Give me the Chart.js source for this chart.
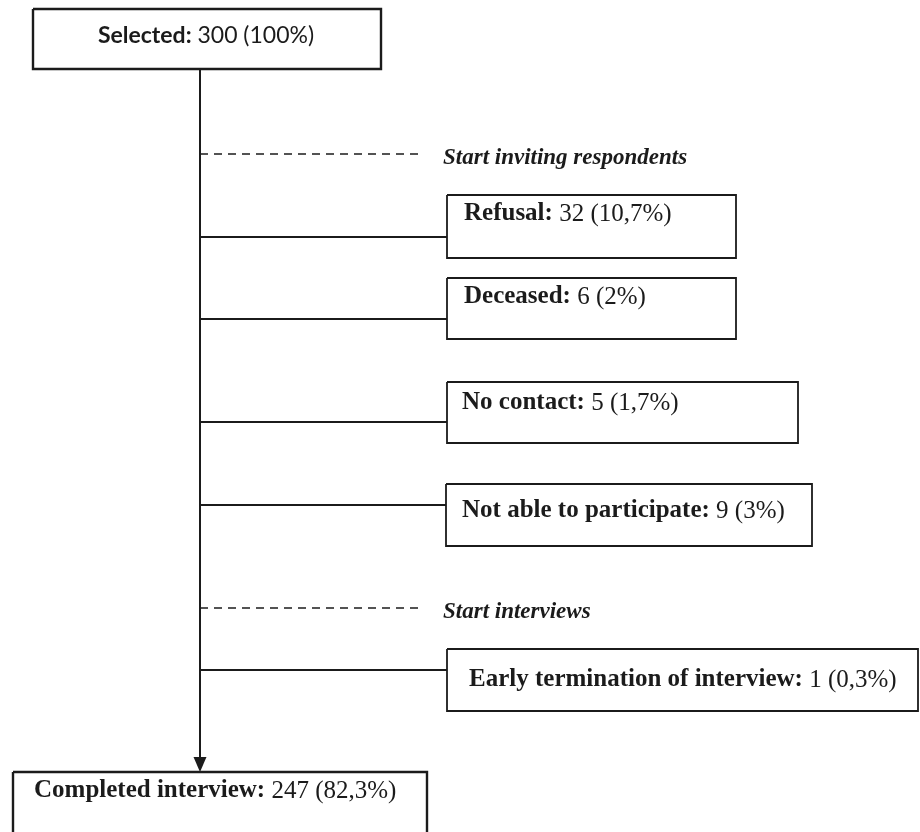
<!DOCTYPE html>
<html>
<head>
<meta charset="utf-8">
<script src="https://cdn.jsdelivr.net/npm/chart.js@4/dist/chart.umd.min.js"></script>
<style>
  html, body { margin: 0; padding: 0; background: #fff; }
  #wrap { width: 920px; height: 832px; position: relative; }
</style>
</head>
<body>
<div id="wrap"><canvas id="flow"></canvas></div>
<script>
// ---- data ----
const categories = ['Selected', 'Refusal', 'Deceased', 'No contact', 'Not able to participate',
  'Early termination of interview', 'Completed interview'];
const counts = [300, 32, 6, 5, 9, 1, 247];
const percents = ['100%', '10,7%', '2%', '1,7%', '3%', '0,3%', '82,3%'];
const phaseLabels = ['Start inviting respondents', 'Start interviews'];

// ---- layout (pixel-like data units on a 920 x 832 plane) ----
const trunkX = 200;
const trunkTop = 69;
const trunkBottom = 772;
// [left, top, right, bottom, textX, textY, branchY]
const boxes = [
  [33, 9, 381, 69, 206, 36, null],
  [447, 195, 736, 258, 464, 214, 237],
  [447, 278, 736, 339, 464, 297, 319],
  [447, 382, 798, 443, 462, 403, 422],
  [446, 484, 812, 546, 462, 511, 505],
  [447, 649, 918, 711, 469, 680, 670],
  [13, 772, 427, 845, 34, 791, null],
];
// [y, xEnd, textX]
const phases = [
  [154, 423, 443],
  [608, 423, 443],
];

const INK = '#1b1b1b';

function rectPoints(b) {
  return [{ x: b[0], y: b[1] }, { x: b[2], y: b[1] }, { x: b[2], y: b[3] }, { x: b[0], y: b[3] }, { x: b[0], y: b[1] }];
}

const datasets = [];
// trunk
datasets.push({ data: [{ x: trunkX, y: trunkTop }, { x: trunkX, y: trunkBottom - 8 }], borderWidth: 2 });
// boxes + branches
boxes.forEach((b, i) => {
  datasets.push({ data: rectPoints(b), borderWidth: i === 0 || i === 6 ? 2.4 : 1.8 });
  if (b[6] !== null) {
    datasets.push({ data: [{ x: trunkX, y: b[6] }, { x: b[0], y: b[6] }], borderWidth: 1.8 });
  }
});
// phase markers (dashed)
phases.forEach((p) => {
  datasets.push({ data: [{ x: trunkX, y: p[0] }, { x: p[1], y: p[0] }], borderWidth: 1.4, borderDash: [8, 6] });
});
datasets.forEach((d) => {
  d.borderColor = INK;
  d.pointRadius = 0;
  d.tension = 0;
  d.fill = false;
  d.borderCapStyle = 'butt';
  d.borderJoinStyle = 'miter';
});

const labelPlugin = {
  id: 'flowLabels',
  afterDatasetsDraw(chart) {
    const { ctx, scales: { x, y } } = chart;
    ctx.save();
    ctx.fillStyle = INK;
    ctx.textBaseline = 'middle';

    // arrow head on the trunk
    const tipX = x.getPixelForValue(trunkX);
    const tipY = y.getPixelForValue(trunkBottom);
    ctx.beginPath();
    ctx.moveTo(tipX, tipY);
    ctx.lineTo(tipX - 6.5, tipY - 15);
    ctx.lineTo(tipX + 6.5, tipY - 15);
    ctx.closePath();
    ctx.fill();

    boxes.forEach((b, i) => {
      const serif = i !== 0;
      const boldFont = serif ? 'bold 25px "Liberation Serif", "Times New Roman", serif' : 'bold 23px Lato, "Open Sans", sans-serif';
      const normFont = serif ? '25px "Liberation Serif", "Times New Roman", serif' : '23px Lato, "Open Sans", sans-serif';
      const head = categories[i] + ':';
      const tail = ' ' + counts[i] + ' (' + percents[i] + ')';
      ctx.font = boldFont;
      const w1 = ctx.measureText(head).width;
      ctx.font = normFont;
      const w2 = ctx.measureText(tail).width;
      let px = x.getPixelForValue(b[4]);
      if (i === 0) px -= (w1 + w2) / 2;
      const py = y.getPixelForValue(b[5]);
      ctx.font = boldFont;
      ctx.textAlign = 'left';
      ctx.fillText(head, px, py);
      ctx.font = normFont;
      ctx.fillText(tail, px + w1, py);
    });

    ctx.font = 'italic bold 23px "Liberation Serif", "Times New Roman", serif';
    phases.forEach((p, i) => {
      ctx.fillText(phaseLabels[i], x.getPixelForValue(p[2]), y.getPixelForValue(p[0]) + 4);
    });
    ctx.restore();
  },
};

new Chart(document.getElementById('flow'), {
  type: 'line',
  data: { datasets },
  options: {
    responsive: true,
    maintainAspectRatio: false,
    animation: false,
    parsing: false,
    layout: { padding: 0 },
    plugins: { legend: { display: false }, tooltip: { enabled: false } },
    scales: {
      x: { type: 'linear', min: 0, max: 920, display: false },
      y: { type: 'linear', min: 0, max: 832, reverse: true, display: false },
    },
  },
  plugins: [labelPlugin],
});
</script>
</body>
</html>
